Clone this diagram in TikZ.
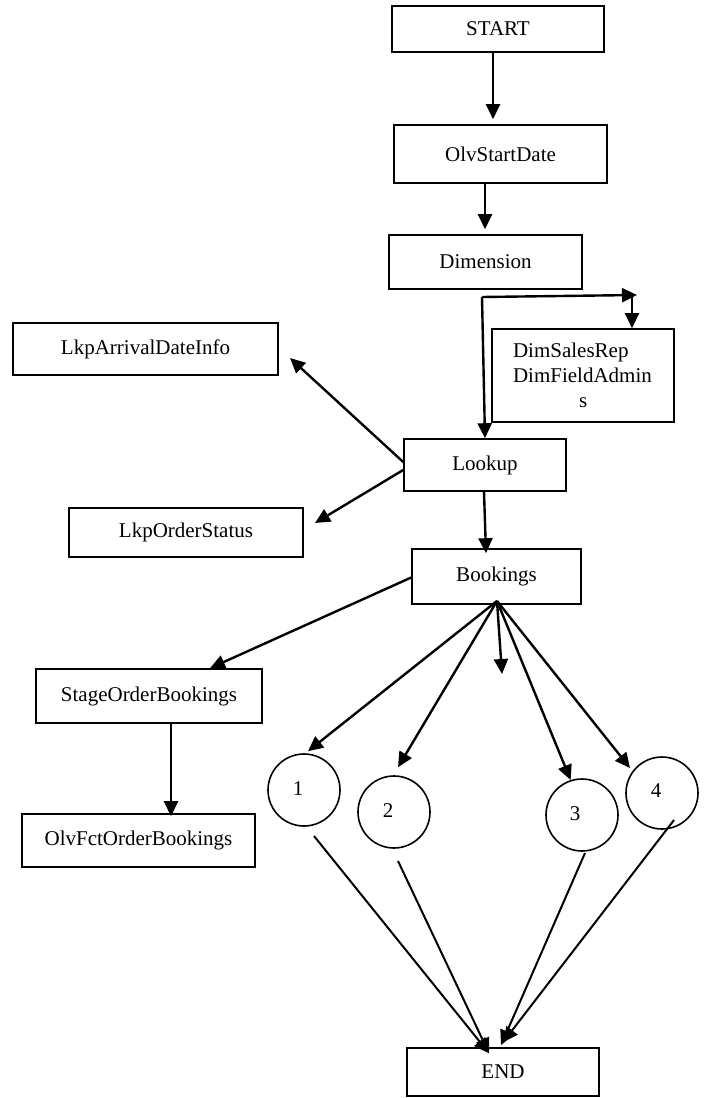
\documentclass[tikz,border=0pt]{standalone}
\usepackage{fontspec}
\setmainfont{Liberation Serif}
\usetikzlibrary{arrows.meta,calc}
\begin{document}
\begin{tikzpicture}[x=1pt,y=-1pt,
  box/.style={draw, line width=1.6pt, inner sep=0pt, font=\fontsize{21}{25}\selectfont},
  circ/.style={draw, circle, line width=1.6pt, inner sep=0pt, minimum size=72pt, font=\fontsize{21}{25}\selectfont},
  arr/.style={line width=2.4pt, -{Triangle[length=15pt,width=14pt]}},
  arrthin/.style={line width=2pt, -{Triangle[length=15pt,width=14pt]}}]
\useasboundingbox (0,0) rectangle (709,1098);
% boxes
\node[box, minimum width=212pt, minimum height=46pt] (start) at (498,29) {START};
\node[box, minimum width=213pt, minimum height=58pt] (olv) at (500.5,154) {OlvStartDate};
\node[box, minimum width=193pt, minimum height=54pt] (dim) at (485.5,262) {Dimension};
\node[box, minimum width=182pt, minimum height=93pt, text width=140pt, align=left, inner xsep=21pt] (dsr) at (583,375.5)
  {DimSalesRep\\DimFieldAdmin\\\hspace*{66pt}s};
\node[box, minimum width=265pt, minimum height=52pt] (arrival) at (145.5,349) {LkpArrivalDateInfo};
\node[box, minimum width=162pt, minimum height=52pt] (lookup) at (485,465) {Lookup};
\node[box, minimum width=234pt, minimum height=49pt] (status) at (186,532.5) {LkpOrderStatus};
\node[box, minimum width=169pt, minimum height=55pt] (book) at (496.5,576.5) {Bookings};
\node[box, minimum width=226pt, minimum height=54pt] (stage) at (149,696) {StageOrderBookings};
\node[box, minimum width=233pt, minimum height=53pt] (fct) at (138.5,840.5) {OlvFctOrderBookings};
\node[box, minimum width=192pt, minimum height=48pt] (end) at (503,1072) {END};
% circles
\node[circ] (c1) at (304,790) {\raisebox{3pt}{\makebox[0pt]{\hspace*{-12pt}1}}};
\node[circ] (c2) at (394,812) {\raisebox{3pt}{\makebox[0pt]{\hspace*{-12pt}2}}};
\node[circ] (c3) at (582,815) {\raisebox{3pt}{\makebox[0pt]{\hspace*{-14pt}3}}};
\node[circ] (c4) at (662,793) {\raisebox{5pt}{\makebox[0pt]{\hspace*{-12pt}4}}};
% free ends
\coordinate (j1) at (482,297);
\coordinate (j2) at (637,295);
\coordinate (j3) at (632,295);
\coordinate (tarr) at (290,358);
\coordinate (tstat) at (315,523);
\coordinate (f0) at (497,601);
\coordinate (tmid) at (502,674);
% connectors
\draw[arr] ([xshift=-5pt]start.south) -- ([xshift=-7.5pt,yshift=5pt]olv.north);
\draw[arr] ([xshift=-15.5pt]olv.south) -- ([xshift=-0.5pt,yshift=5pt]dim.north);
\draw[arr] (j1) -- (j2);
\draw[arr] (j3) -- (dsr.north -| j3);
\draw[arr] (j1) -- (lookup.north);
\draw[arr] ([yshift=3pt]lookup.west) -- (tarr);
\draw[arr] ([yshift=-5pt]lookup.west) -- (tstat);
\draw[arr] ([xshift=-1pt]lookup.south) -- ([xshift=-10.5pt,yshift=-5pt]book.north);
\draw[arr] ([yshift=-1pt]book.west) -- ([xshift=61pt]stage.north);
\draw[arr] ([xshift=22pt]stage.south) -- ([xshift=32.5pt,yshift=-3pt]fct.north);
\draw[arr] (f0) -- ([xshift=4pt,yshift=2pt]c1.north);
\draw[arr] (f0) -- ([xshift=4pt,yshift=8pt]c2.north);
\draw[arr] (f0) -- (tmid);
\draw[arr] (f0) -- (c3.108);
\draw[arr] (f0) -- ($(c4.center)+(-32,-25)$);
\draw[arrthin] ($(c1.center)+(10,46)$) -- ([xshift=-14pt,yshift=-6pt]end.north);
\draw[arrthin] ($(c2.center)+(4,49)$) -- ([xshift=-14pt,yshift=-6pt]end.north);
\draw[arrthin] ($(c3.center)+(3,38)$) -- ([xshift=-2pt,yshift=2pt]end.north);
\draw[arrthin] ($(c4.center)+(12,27)$) -- ([xshift=0pt,yshift=5pt]end.north);
\end{tikzpicture}
\end{document}
